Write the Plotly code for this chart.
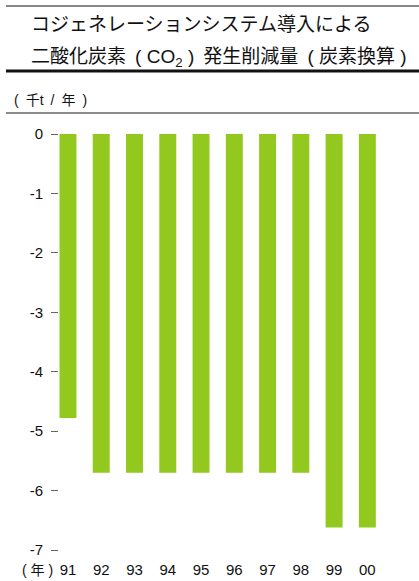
import plotly.graph_objects as go

years = ["91", "92", "93", "94", "95", "96", "97", "98", "99", "00"]
reduction = [-4.78, -5.70, -5.70, -5.70, -5.70, -5.70, -5.70, -5.70, -6.62, -6.62]
y_tickvals = [0, -1, -2, -3, -4, -5, -6, -7]
y_ticktext = ["0", "-1", "-2", "-3", "-4", "-5", "-6", "-7"]

W, H = 419, 581
L, R, T, B = 59, 35, 134, 31
PW, PH = W - L - R, H - T - B

def px(x):
    return (x - L) / PW

def py(y):
    return (H - B - y) / PH

FONT = "Liberation Sans, Arial, Noto Sans CJK JP, sans-serif"

fig = go.Figure(go.Bar(
    x=years, y=reduction, width=0.51,
    marker=dict(color="#93C91E", line=dict(width=0)),
))

fig.update_layout(
    width=W, height=H,
    margin=dict(l=L, r=R, t=T, b=B, autoexpand=False),
    paper_bgcolor="white", plot_bgcolor="white",
    showlegend=False,
    font=dict(family=FONT, color="#111", size=15),
    xaxis=dict(type="category", range=[-0.27, 9.5], showgrid=False, showline=False,
               zeroline=False, ticks="", ticklabelstandoff=9, automargin=False,
               tickfont=dict(size=15, family=FONT)),
    yaxis=dict(range=[-7, 0], tickvals=y_tickvals, ticktext=y_ticktext,
               showgrid=False, showline=False, zeroline=False, automargin=False,
               ticks="outside", ticklen=7, tickwidth=1, tickcolor="#666",
               ticklabelstandoff=5, tickfont=dict(size=15, family=FONT)),
)

shapes = [
    dict(type="line", xref="paper", yref="paper", x0=px(6), x1=px(419), y0=py(6), y1=py(6),
         line=dict(color="#888", width=2)),
    dict(type="line", xref="paper", yref="paper", x0=px(6), x1=px(419), y0=py(71), y1=py(71),
         line=dict(color="#111", width=3)),
    dict(type="line", xref="paper", yref="paper", x0=px(6), x1=px(419), y0=py(113), y1=py(113),
         line=dict(color="#666", width=1.3)),
]
fig.update_layout(shapes=shapes)

sp = "\u2009 "
ann = [
    dict(text="コジェネレーションシステム導入による", x=px(29), y=py(25), size=19),
    dict(text="二酸化炭素" + sp + "(" + " CO<sub>2</sub> " + ")" + " \u2009発生削減量" + sp + "(" + " 炭素換算 " + ")",
         x=px(29), y=py(58), size=19),
    dict(text="(\u2002千t\u2002/\u2002年\u2002)", x=px(12), y=py(100), size=14),
    dict(text="( 年 )", x=px(20), y=py(570), size=14),
]
for a in ann:
    fig.add_annotation(text=a["text"], x=a["x"], y=a["y"], xref="paper", yref="paper",
                       xanchor="left", yanchor="middle", showarrow=False,
                       font=dict(size=a["size"], family=FONT, color="#111"))

fig.write_html("out.html")
